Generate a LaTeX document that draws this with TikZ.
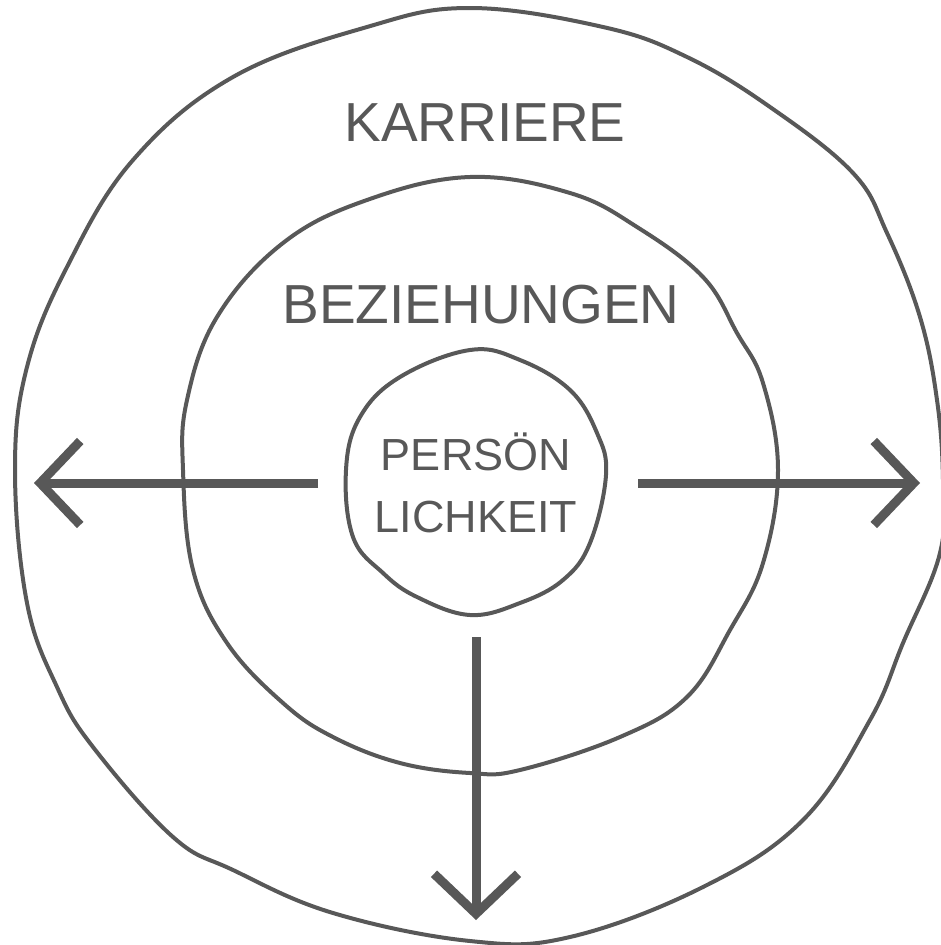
\documentclass[tikz,border=0pt]{standalone}
\usepackage{fontspec}
\setmainfont{Liberation Sans}
\usepackage{tikz}
\usetikzlibrary{positioning, arrows.meta}
\definecolor{inkgray}{RGB}{88, 88, 88}

\begin{document}
\begin{tikzpicture}[x=1pt, y=-1pt, thick, >=stealth,
    ring/.style={draw=inkgray, line width=4pt, line join=round},
    ringtext/.style={text=inkgray, inner sep=0pt, align=center},
    outarrow/.style={draw=inkgray, line width=9pt,
      -{Straight Barb[length=40pt, width=84pt, line cap=butt]}}]
    \useasboundingbox (0,0) rectangle (940,945);

    % Rings
    \draw[ring] plot[smooth cycle, tension=0.65] coordinates {
      (470,8) (603,27) (687,57) (770,107) (853,173) (887,233) (920,317)
      (937,400) (943,480) (940,553) (903,643) (870,720) (803,820) (703,887)
      (570,937) (470,941) (333,913) (233,870) (173,837) (93,747) (57,687)
      (27,603) (15,470) (27,367) (67,267) (133,160) (233,77) (367,27)};
    \draw[ring] plot[smooth cycle, tension=0.65] coordinates {
      (470,177) (570,193) (637,227) (703,277) (737,333) (763,383) (778,470)
      (763,563) (730,630) (687,697) (620,737) (520,770) (470,773) (400,763)
      (333,737) (283,703) (227,643) (193,570) (183,470) (187,400) (217,317)
      (283,243) (367,200)};
    \draw[ring] plot[smooth cycle, tension=0.65] coordinates {
      (470,350) (520,360) (570,390) (597,433) (606,475) (590,543) (563,580)
      (520,603) (470,615) (417,597) (383,573) (353,537) (346,470) (360,417)
      (400,377)};

    % Nodes
    \node (karriere) [ringtext, font=\fontsize{55}{60}\selectfont] at (485,123) {KARRIERE};
    \node (beziehungen) [ringtext, font=\fontsize{55}{60}\selectfont] at (481,305) {BEZIEHUNGEN};
    \node (person) [ringtext, font=\fontsize{45}{62}\selectfont] at (476,483) {PERSÖN\\LICHKEIT};

    % Arrow ends
    \coordinate (leftstart) at (318,483);
    \coordinate (leftend) at (34,483);
    \coordinate (rightstart) at (638,483);
    \coordinate (rightend) at (920,483);
    \coordinate (downstart) at (476,637);
    \coordinate (downend) at (476,920);

    % Arrows
    \draw[outarrow] (leftstart) -- (leftend);
    \draw[outarrow] (rightstart) -- (rightend);
    \draw[outarrow] (downstart) -- (downend);
\end{tikzpicture}
\end{document}
